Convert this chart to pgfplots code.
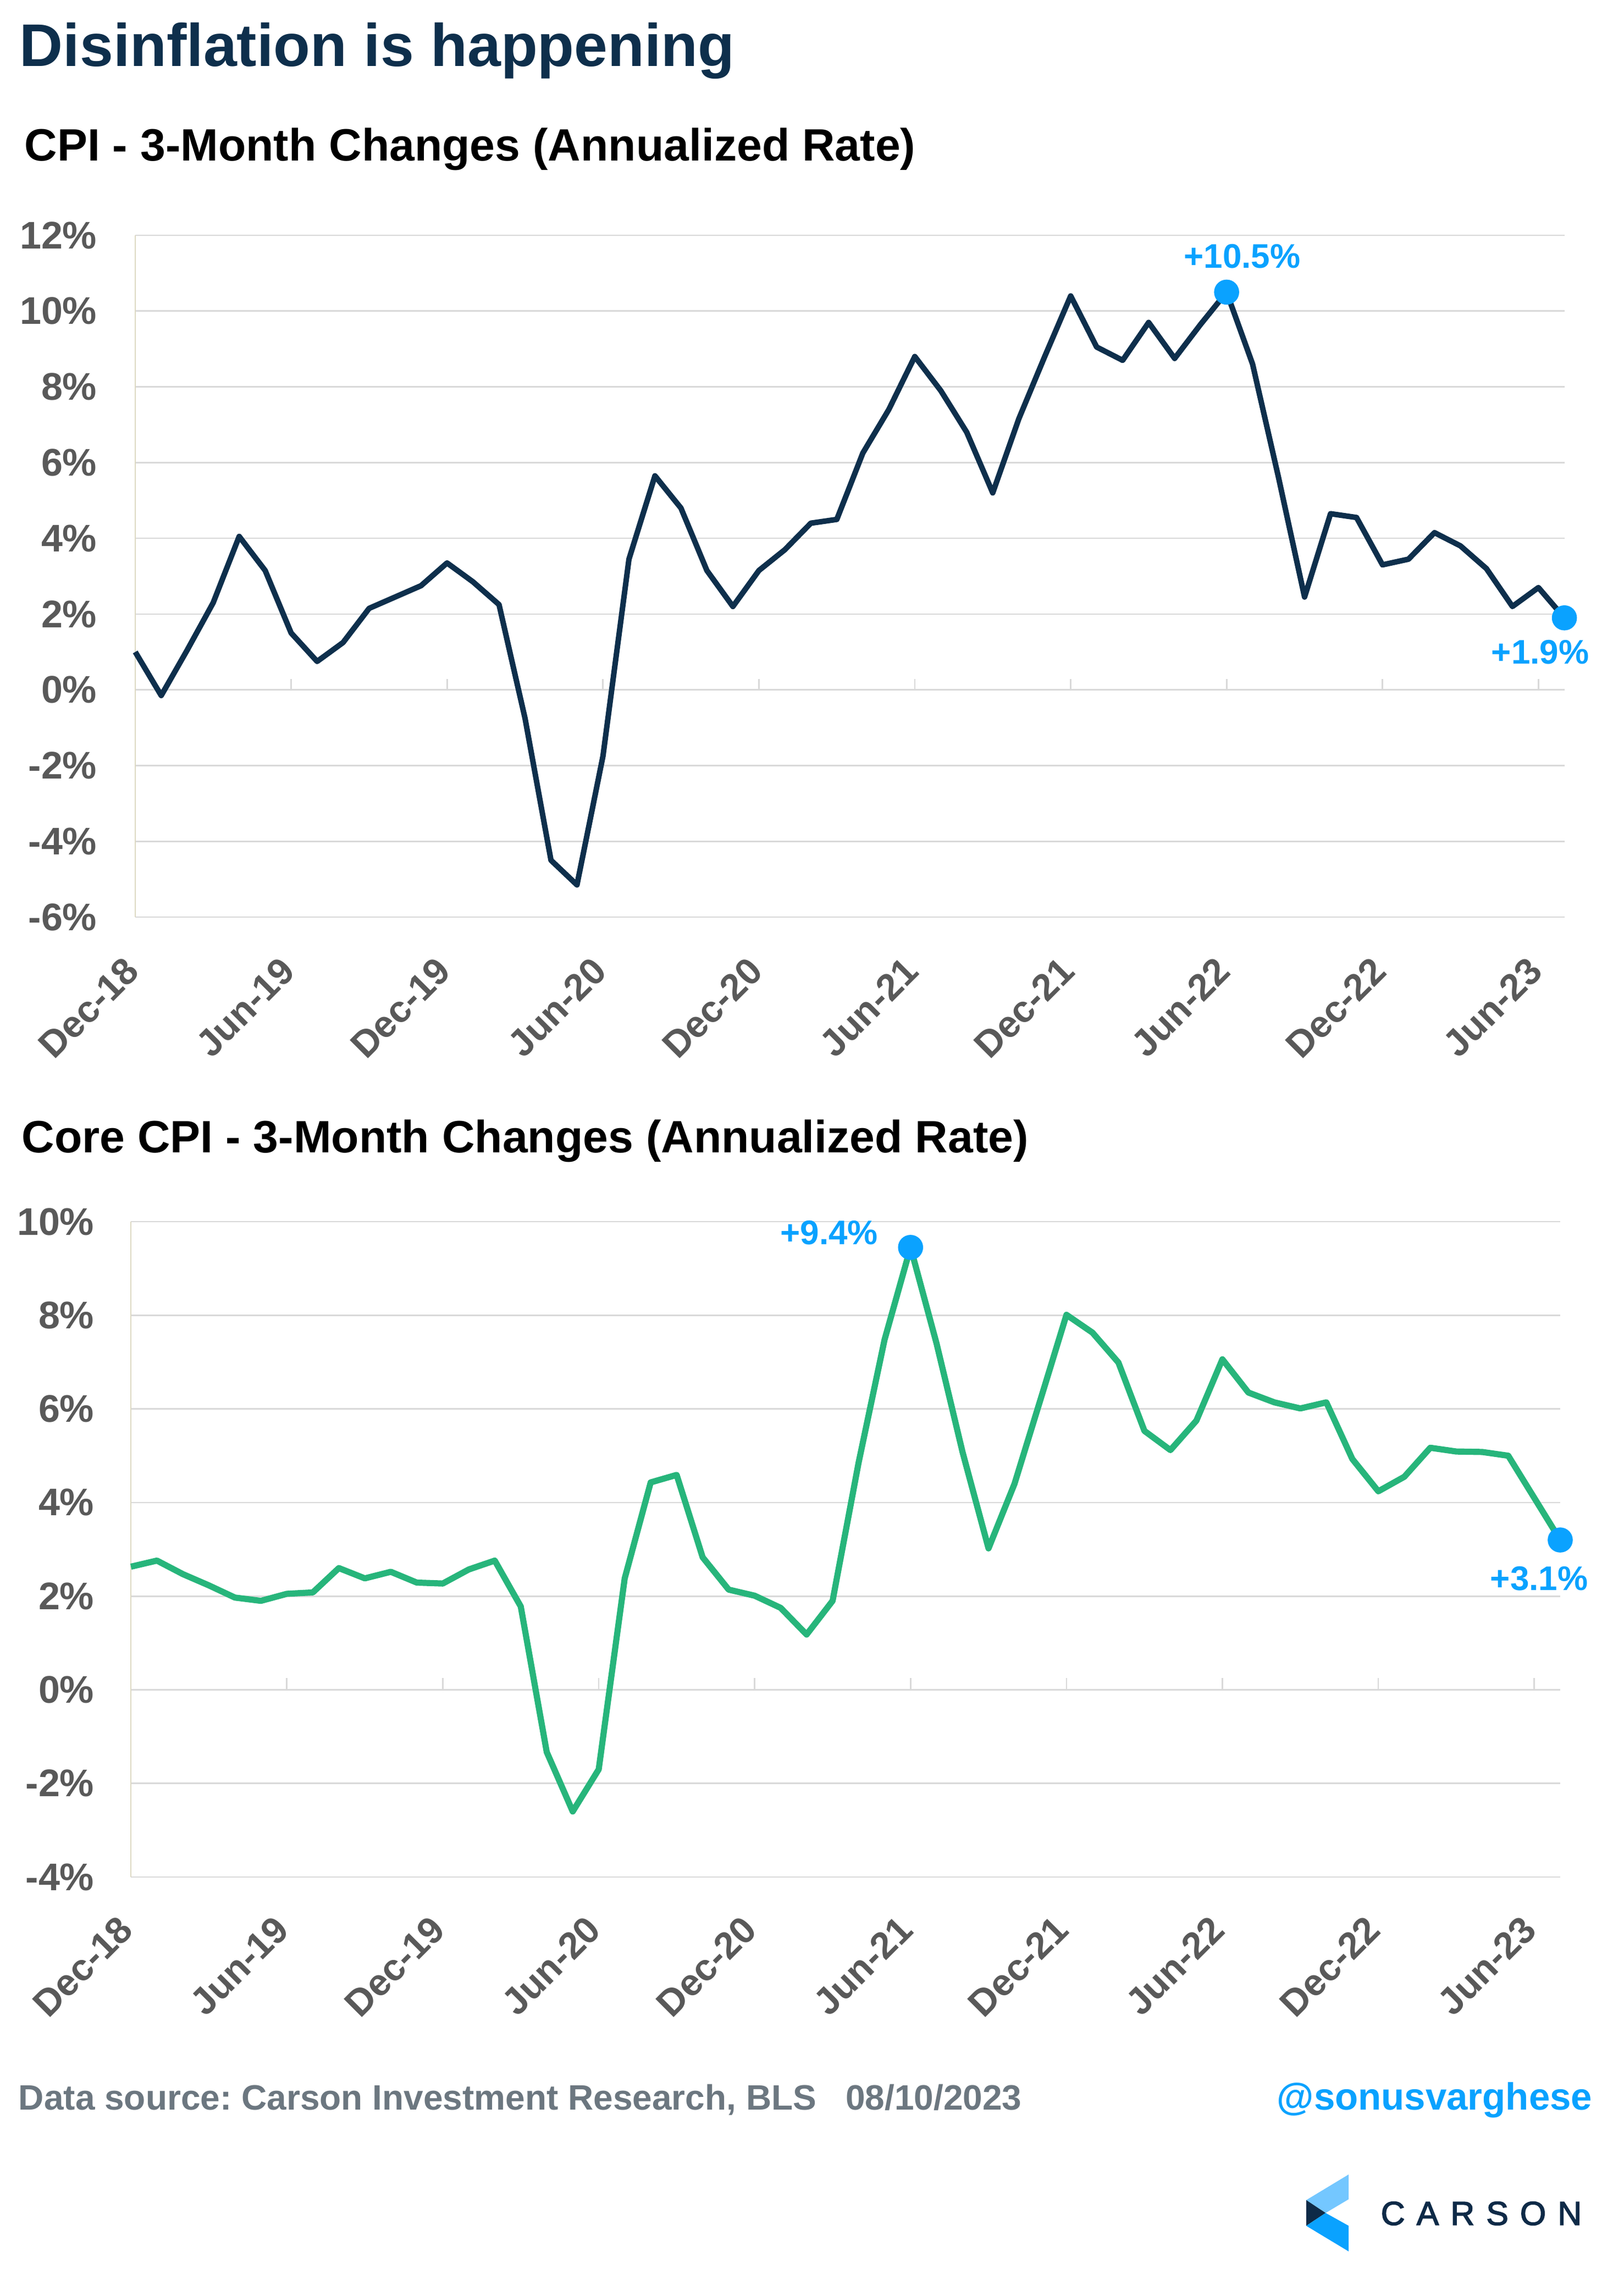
\documentclass[border=0pt]{standalone}
\usepackage{fontspec}
\setmainfont{Liberation Sans}
\newfontfamily\carsonfont[LetterSpace=35, FakeBold=2.5]{Liberation Sans}
\usepackage{pgfplots}
\usepackage{pgfplotstable}
\pgfplotsset{compat=1.18}
\frenchspacing
\definecolor{navy}{HTML}{0E2F4C}
\definecolor{cgreen}{HTML}{27B57B}
\definecolor{cblue}{HTML}{0AA2FF}
\definecolor{lblue}{HTML}{74C7FF}
\definecolor{gridc}{HTML}{D9D9D9}
\definecolor{tickc}{HTML}{595959}
\definecolor{footc}{HTML}{6C7780}
\definecolor{axtan}{HTML}{DDD9C3}
\definecolor{logonavy}{HTML}{0E2A47}

\pgfplotstableread{
m v
0 1.0
1 -0.15
2 1.05
3 2.3
4 4.05
5 3.15
6 1.5
7 0.75
8 1.25
9 2.15
10 2.45
11 2.75
12 3.35
13 2.85
14 2.25
15 -0.75
16 -4.5
17 -5.15
18 -1.75
19 3.45
20 5.65
21 4.8
22 3.15
23 2.2
24 3.15
25 3.7
26 4.4
27 4.5
28 6.25
29 7.4
30 8.8
31 7.9
32 6.8
33 5.2
34 7.15
35 8.8
36 10.4
37 9.05
38 8.7
39 9.7
40 8.75
41 9.65
42 10.5
43 8.6
44 5.6
45 2.45
46 4.65
47 4.55
48 3.3
49 3.45
50 4.15
51 3.8
52 3.2
53 2.2
54 2.7
55 1.9
}\cpi

\pgfplotstableread{
m v
0 2.63
1 2.76
2 2.47
3 2.23
4 1.97
5 1.9
6 2.05
7 2.08
8 2.6
9 2.38
10 2.52
11 2.29
12 2.27
13 2.57
14 2.76
15 1.78
16 -1.33
17 -2.6
18 -1.7
19 2.38
20 4.43
21 4.59
22 2.83
23 2.14
24 2.01
25 1.75
26 1.18
27 1.9
28 4.85
29 7.48
30 9.45
31 7.4
32 5.08
33 3.02
34 4.4
35 6.2
36 8.01
37 7.63
38 6.99
39 5.53
40 5.12
41 5.75
42 7.06
43 6.35
44 6.14
45 6.01
46 6.14
47 4.93
48 4.24
49 4.55
50 5.17
51 5.09
52 5.08
53 5.0
54 4.1
55 3.2
}\core

\pgfplotsset{
  carsonaxis/.style={
    scale only axis, clip=false,
    xmin=0, xmax=55,
    xtick={0,6,12,18,24,30,36,42,48,54},
    xticklabels={Dec-18,Jun-19,Dec-19,Jun-20,Dec-20,Jun-21,Dec-21,Jun-22,Dec-22,Jun-23},
    ymajorgrids, grid style={gridc, line width=0.68pt},
    axis line style={draw=none}, major tick length=0pt, tick style={draw=none},
    yticklabel style={font=\fontsize{17.5pt}{21pt}\selectfont\bfseries, text=tickc, anchor=east, inner sep=0pt},
    xticklabel style={font=\fontsize{17pt}{20pt}\selectfont\bfseries, text=tickc, anchor=north east, inner sep=0pt},
  }
}

\begin{document}
\begin{tikzpicture}
\path[use as bounding box] (0,0) rectangle (738.5pt,-1041.75pt);

% titles
\node[anchor=base west, inner sep=0pt, text=navy, font=\fontsize{27.35pt}{32pt}\selectfont\bfseries] at (8.75pt,-30pt) {Disinflation is happening};
\node[anchor=base west, inner sep=0pt, text=black, font=\fontsize{20.6pt}{24pt}\selectfont\bfseries] at (11pt,-73.2pt) {CPI - 3-Month Changes (Annualized Rate)};
\node[anchor=base west, inner sep=0pt, text=black, font=\fontsize{20.6pt}{24pt}\selectfont\bfseries] at (9.75pt,-524pt) {Core CPI - 3-Month Changes (Annualized Rate)};

% top chart
\begin{axis}[carsonaxis,
  at={(61.5pt,-417pt)}, anchor=south west,
  width=649.9pt, height=310pt,
  ymin=-6, ymax=12,
  ytick={-6,-4,-2,0,2,4,6,8,10,12},
  yticklabels={-6\%,-4\%,-2\%,0\%,2\%,4\%,6\%,8\%,10\%,12\%},
  yticklabel style={xshift=-17.25pt},
  xticklabel style={xshift=-5.75pt, yshift=-17.1pt, rotate=45},
]
\draw[axtan, line width=0.5pt] (axis cs:0,-6) -- (axis cs:0,12);
\pgfplotsinvokeforeach{6,12,18,24,30,36,42,48,54}{
  \draw[gridc, line width=0.68pt] (axis cs:#1,0) -- ++(0pt,5pt);
}
\addplot[navy, line width=2.5pt, line join=round] table[x=m, y=v] {\cpi};
\addplot[only marks, mark=*, mark size=5.5pt, mark options={draw=cblue, fill=cblue}] coordinates {(42,10.5) (55,1.9)};
\node[text=cblue, font=\fontsize{15.5pt}{18pt}\selectfont\bfseries, inner sep=0pt] at (axis cs:42.6,11.45) {+10.5\%};
\node[text=cblue, font=\fontsize{15.5pt}{18pt}\selectfont\bfseries, inner sep=0pt] at (axis cs:54.07,0.99) {+1.9\%};
\end{axis}

% bottom chart
\begin{axis}[carsonaxis,
  at={(59.55pt,-853.5pt)}, anchor=south west,
  width=649.95pt, height=298pt,
  ymin=-4, ymax=10,
  ytick={-4,-2,0,2,4,6,8,10},
  yticklabels={-4\%,-2\%,0\%,2\%,4\%,6\%,8\%,10\%},
  yticklabel style={xshift=-16.55pt},
  xticklabel style={xshift=-6.5pt, yshift=-16.4pt, rotate=45},
]
\draw[axtan, line width=0.5pt] (axis cs:0,-4) -- (axis cs:0,10);
\pgfplotsinvokeforeach{6,12,18,24,30,36,42,48,54}{
  \draw[gridc, line width=0.68pt] (axis cs:#1,0) -- ++(0pt,5.25pt);
}
\addplot[cgreen, line width=2.8pt, line join=round] table[x=m, y=v] {\core};
\addplot[only marks, mark=*, mark size=5.5pt, mark options={draw=cblue, fill=cblue}] coordinates {(30,9.45) (55,3.2)};
\node[text=cblue, font=\fontsize{15.5pt}{18pt}\selectfont\bfseries, inner sep=0pt] at (axis cs:26.87,9.76) {+9.4\%};
\node[text=cblue, font=\fontsize{15.5pt}{18pt}\selectfont\bfseries, inner sep=0pt] at (axis cs:54.19,2.37) {+3.1\%};
\end{axis}

% footer
\node[anchor=base west, inner sep=0pt, text=footc, font=\fontsize{16pt}{19pt}\selectfont\bfseries] at (8.3pt,-959.25pt) {Data source: Carson Investment Research, BLS\ \ \ 08/10/2023};
\node[anchor=base east, inner sep=0pt, text=cblue, font=\fontsize{17.25pt}{20pt}\selectfont\bfseries] at (724.25pt,-959.25pt) {@sonusvarghese};

% logo
\fill[lblue] (594pt,-1000.4pt) -- (613.3pt,-988.75pt) -- (613.3pt,-1000pt) -- (602.8pt,-1006.25pt) -- cycle;
\fill[logonavy] (594pt,-1000.4pt) -- (602.8pt,-1006.25pt) -- (594pt,-1012.1pt) -- cycle;
\fill[cblue] (594pt,-1012.1pt) -- (602.8pt,-1006.25pt) -- (613.3pt,-1012.1pt) -- (613.3pt,-1023.75pt) -- cycle;
\node[anchor=base west, inner sep=0pt, text=logonavy, font=\carsonfont\fontsize{15.15pt}{18pt}\selectfont] at (627.75pt,-1011.7pt) {CARSON};
\end{tikzpicture}
\end{document}
